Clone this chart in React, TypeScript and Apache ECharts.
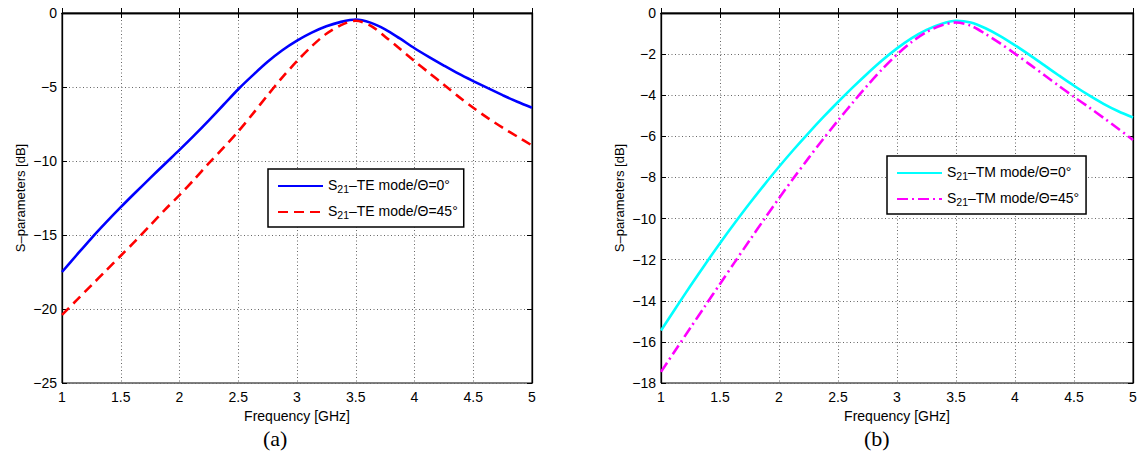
import { useEffect, useRef } from "react";
import * as echarts from "echarts";

// Frequency samples [GHz], every 0.125 GHz
const freq = [1, 1.125, 1.25, 1.375, 1.5, 1.625, 1.75, 1.875, 2, 2.125, 2.25, 2.375, 2.5, 2.625, 2.75, 2.875, 3, 3.125, 3.25, 3.375, 3.5, 3.625, 3.75, 3.875, 4, 4.125, 4.25, 4.375, 4.5, 4.625, 4.75, 4.875, 5];
// (a) TE mode
const te0 = [-17.5, -16.35, -15.22, -14.15, -13.12, -12.13, -11.16, -10.2, -9.25, -8.27, -7.25, -6.2, -5.15, -4.2, -3.3, -2.52, -1.87, -1.33, -0.9, -0.6, -0.44, -0.65, -1.1, -1.72, -2.38, -2.98, -3.55, -4.1, -4.6, -5.08, -5.55, -6.0, -6.4];
const te45 = [-20.4, -19.4, -18.4, -17.4, -16.4, -15.4, -14.35, -13.3, -12.3, -11.25, -10.15, -9.1, -8.0, -6.8, -5.55, -4.35, -3.25, -2.25, -1.4, -0.82, -0.52, -0.85, -1.6, -2.42, -3.25, -4.05, -4.85, -5.65, -6.4, -7.1, -7.75, -8.35, -8.95];
// (b) TM mode
const tm0 = [-15.45, -14.35, -13.27, -12.22, -11.2, -10.22, -9.27, -8.36, -7.48, -6.64, -5.84, -5.07, -4.33, -3.62, -2.94, -2.3, -1.72, -1.22, -0.82, -0.53, -0.38, -0.46, -0.74, -1.12, -1.57, -2.05, -2.55, -3.05, -3.54, -4.0, -4.42, -4.78, -5.08];
const tm45 = [-17.46, -16.38, -15.31, -14.24, -13.18, -12.12, -11.07, -10.03, -9.01, -8.02, -7.06, -6.13, -5.23, -4.36, -3.52, -2.73, -2.02, -1.41, -0.93, -0.61, -0.46, -0.62, -1.02, -1.48, -1.98, -2.5, -3.03, -3.56, -4.08, -4.58, -5.1, -5.63, -6.18];

const names = ["S21–TE mode/Θ=0°", "S21–TE mode/Θ=45°", "S21–TM mode/Θ=0°", "S21–TM mode/Θ=45°"];
const xTitle = "Frequency [GHz]";
const yTitle = "S–parameters [dB]";
const panelLabels = ["(a)", "(b)"];

const FONT = "Liberation Sans, Arial, Helvetica, sans-serif";

const pairs = (ys: number[]) => freq.map((f, i) => [f, ys[i]]);
const fmtY = (v: number) => (v < 0 ? "−" + Math.abs(v) : String(v));

export default function App() {
  const ref = useRef<HTMLDivElement>(null);
  useEffect(() => {
    if (!ref.current) return;
    const chart = echarts.init(ref.current, null, { renderer: "svg" });

    const grids = [
      { left: 62, top: 13, width: 470, height: 370 },
      { left: 661, top: 13, width: 472, height: 370 },
    ];
    const yRanges = [
      { min: -25, max: 0, interval: 5 },
      { min: -18, max: 0, interval: 2 },
    ];

    const tick = { show: true, inside: true, length: 5, lineStyle: { color: "#000", width: 1 } };
    const split = { show: true, lineStyle: { color: "#666", width: 1, type: [1, 2.5] as any } };
    const axisLine = { show: true, lineStyle: { color: "#000", width: 1.3 } };

    const xAxis: any[] = [];
    const yAxis: any[] = [];
    grids.forEach((_, g) => {
      xAxis.push({
        type: "value", gridIndex: g, min: 1, max: 5, interval: 0.5, position: "bottom",
        axisLine, axisTick: tick, splitLine: split,
        axisLabel: { color: "#000", fontSize: 14, fontFamily: FONT, margin: 7 },
        name: xTitle, nameLocation: "middle", nameGap: 25,
        nameTextStyle: { color: "#000", fontSize: 14, fontFamily: FONT },
      });
      xAxis.push({
        type: "value", gridIndex: g, min: 1, max: 5, interval: 0.5, position: "top",
        axisLine, axisTick: tick, splitLine: { show: false }, axisLabel: { show: false },
      });
      yAxis.push({
        type: "value", gridIndex: g, ...yRanges[g], position: "left",
        axisLine, axisTick: tick, splitLine: split,
        axisLabel: { color: "#000", fontSize: 14, fontFamily: FONT, margin: 5, formatter: fmtY },
        name: yTitle, nameLocation: "middle", nameGap: 35,
        nameTextStyle: { color: "#000", fontSize: 13, fontFamily: FONT },
      });
      yAxis.push({
        type: "value", gridIndex: g, ...yRanges[g], position: "right",
        axisLine, axisTick: tick, splitLine: { show: false }, axisLabel: { show: false },
      });
    });

    const rich = {
      m: { fontSize: 14, fontFamily: FONT, color: "#000", lineHeight: 16, verticalAlign: "top" },
      sub: { fontSize: 10.5, fontFamily: FONT, color: "#000", lineHeight: 12, verticalAlign: "bottom", padding: [9, 0, 0, 0] },
    };
    const legendFmt = (name: string) => `{m|S}{sub|21}{m|${name.slice(3)}}`;
    const legendBase = {
      orient: "vertical", itemWidth: 45, itemHeight: 14, itemGap: 6,
      borderColor: "#000", borderWidth: 1.5, backgroundColor: "#fff",
      formatter: legendFmt, textStyle: { rich }, selectedMode: false,
      itemStyle: { opacity: 0 },
    };

    const mk = (name: string, ys: number[], g: number, color: string, type: any) => ({
      type: "line", name, xAxisIndex: g * 2, yAxisIndex: g * 2,
      data: pairs(ys), showSymbol: false, symbol: "none", smooth: 0.3,
      lineStyle: { color, width: 2.6, type }, itemStyle: { color },
    });

    chart.setOption({
      animation: false,
      backgroundColor: "#fff",
      grid: grids.map((g) => ({ ...g, show: true, borderColor: "#000", borderWidth: 1, backgroundColor: "transparent" })),
      xAxis, yAxis,
      legend: [
        { ...legendBase, data: [names[0], names[1]], left: 268, top: 169, padding: [5, 6, 7, 9] },
        { ...legendBase, data: [names[2], names[3]], left: 887, top: 156, padding: [5, 7, 7, 9] },
      ],
      series: [
        mk(names[0], te0, 0, "#0000ff", "solid"),
        mk(names[1], te45, 0, "#ff0000", [10, 6]),
        mk(names[2], tm0, 1, "#00ffff", "solid"),
        mk(names[3], tm45, 1, "#ff00ff", [11, 4, 2, 4]),
      ],
      graphic: [
        { type: "text", left: 277 - 14, top: 427, style: { text: panelLabels[0], font: "22px 'Liberation Serif', 'Times New Roman', serif", fill: "#000" } },
        { type: "text", left: 878 - 14, top: 427, style: { text: panelLabels[1], font: "22px 'Liberation Serif', 'Times New Roman', serif", fill: "#000" } },
      ],
    });
    return () => chart.dispose();
  }, []);
  return <div ref={ref} style={{ position: "absolute", left: 0, top: 0, width: 1141, height: 457, background: "#fff" }} />;
}
